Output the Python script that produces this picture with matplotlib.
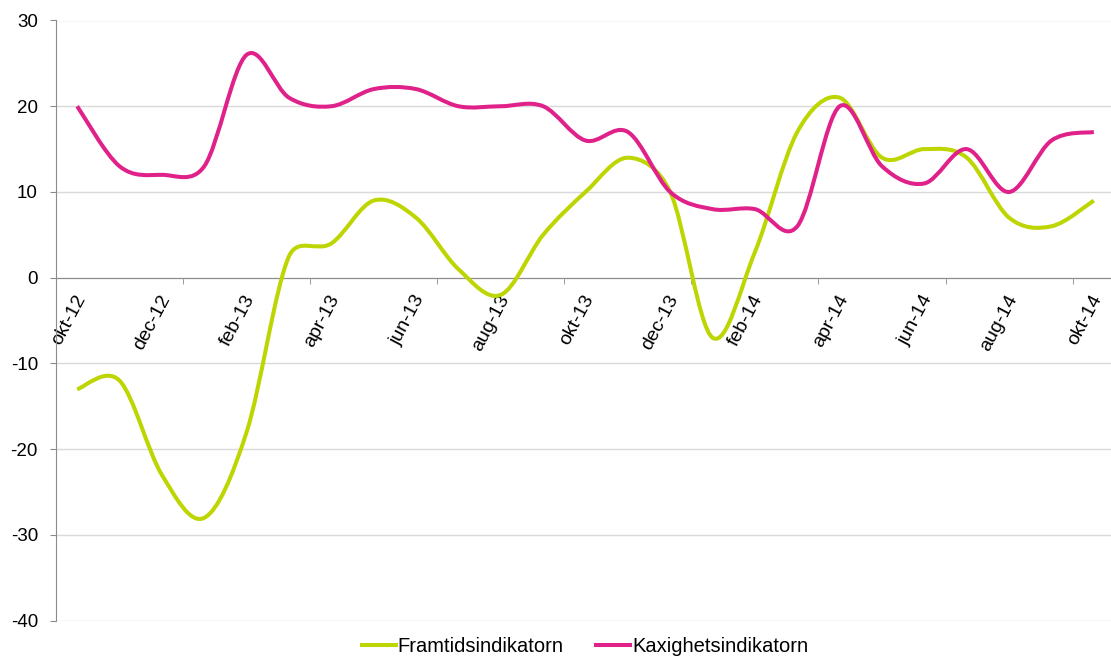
import numpy as np
import matplotlib
matplotlib.use("Agg")
import matplotlib.pyplot as plt
from matplotlib.path import Path
from matplotlib.patches import PathPatch
from matplotlib.lines import Line2D
from matplotlib.transforms import ScaledTranslation

plt.rcParams["font.family"] = ["Liberation Sans", "DejaVu Sans"]
plt.rcParams["axes.unicode_minus"] = False

months = ["okt-12", "nov-12", "dec-12", "jan-13", "feb-13", "mar-13", "apr-13",
          "maj-13", "jun-13", "jul-13", "aug-13", "sep-13", "okt-13", "nov-13",
          "dec-13", "jan-14", "feb-14", "mar-14", "apr-14", "maj-14", "jun-14",
          "jul-14", "aug-14", "sep-14", "okt-14"]
framtid = [-13, -12, -23, -28, -18, 2.5, 4, 9, 7, 1, -2, 5, 10, 14, 10, -7, 3,
           17, 21, 14, 15, 14, 7, 6, 9]
kaxighet = [20, 13, 12, 13, 26, 21, 20, 22, 22, 20, 20, 20, 16, 17, 10, 8, 8,
            6, 20, 13, 11, 15, 10, 16, 17]

GREEN = "#bdd500"
PINK = "#e0218a"
GRID = "#d9d9d9"
AXIS = "#8c8c8c"
FS = 13.5

# px per unit, used only to shape the smoothing like Excel does
SX, SY = 42.37, 8.574


def smooth_path(xs, ys):
    """Excel-style smoothed line as cubic Bezier segments."""
    p = np.column_stack([np.asarray(xs, float) * SX, np.asarray(ys, float) * SY])
    n = len(p)
    verts = [p[0]]
    codes = [Path.MOVETO]
    for i in range(n - 1):
        p0 = p[i - 1] if i > 0 else p[i]
        p1, p2 = p[i], p[i + 1]
        p3 = p[i + 2] if i + 2 < n else p[i + 1]
        d02 = np.linalg.norm(p2 - p0)
        d12 = np.linalg.norm(p2 - p1)
        d13 = np.linalg.norm(p3 - p1)
        f0 = 1 / 6 if d02 / 6 < d12 / 2 else (d12 / 2) / d02
        f1 = 1 / 6 if d13 / 6 < d12 / 2 else (d12 / 2) / d13
        c1 = p1 + (p2 - p0) * f0
        c2 = p2 - (p3 - p1) * f1
        verts += [c1, c2, p2]
        codes += [Path.CURVE4] * 3
    verts = np.array(verts) / [SX, SY]
    return Path(verts, codes)


fig = plt.figure(figsize=(11.11, 6.58), dpi=100)
ax = fig.add_axes([56 / 1111, 37.3 / 658, 1059 / 1111, 600.2 / 658])

x = np.arange(len(months))
for vals, col in [(framtid, GREEN), (kaxighet, PINK)]:
    ax.add_patch(PathPatch(smooth_path(x, vals), fill=False, edgecolor=col,
                           lw=2.9, capstyle="butt", joinstyle="round", zorder=3))

ax.set_xlim(-0.5, len(months) - 0.5)
ax.set_ylim(-40, 30)
ax.set_yticks(np.arange(-40, 31, 10))
ax.yaxis.grid(True, color=GRID, lw=1)
ax.set_axisbelow(True)

for s in ["top", "right"]:
    ax.spines[s].set_visible(False)
ax.spines["left"].set_color(AXIS)
ax.spines["bottom"].set_color(AXIS)
ax.spines["bottom"].set_position(("data", 0))
ax.spines["bottom"].set_zorder(2)

ax.tick_params(axis="y", direction="out", length=4.5, color=AXIS, pad=8.5,
               labelsize=FS, labelcolor="black")

# labels every second month, tick marks every third month boundary
ax.set_xticks(x[::2])
ax.set_xticklabels(months[::2], rotation=62, ha="right", va="center",
                   rotation_mode="anchor", fontsize=14)
ax.set_xticks(np.arange(-0.5, len(months), 3), minor=True)
ax.tick_params(axis="x", which="major", length=0, pad=13)
ax.tick_params(axis="x", which="minor", direction="out", length=4.5, color=AXIS)
for lbl in ax.get_xticklabels():
    lbl.set_transform(lbl.get_transform() + ScaledTranslation(3 / 72, 0, fig.dpi_scale_trans))

handles = [Line2D([], [], color=GREEN, lw=2.9),
           Line2D([], [], color=PINK, lw=2.9)]
fig.legend(handles, ["Framtidsindikatorn", "Kaxighetsindikatorn"],
           loc="center", bbox_to_anchor=(585 / 1111, 1 - 647 / 658), ncol=2,
           frameon=False, fontsize=14.5, handlelength=1.7, handletextpad=0.1,
           columnspacing=1.6)

fig.savefig("out.png", dpi=100, facecolor="white")
